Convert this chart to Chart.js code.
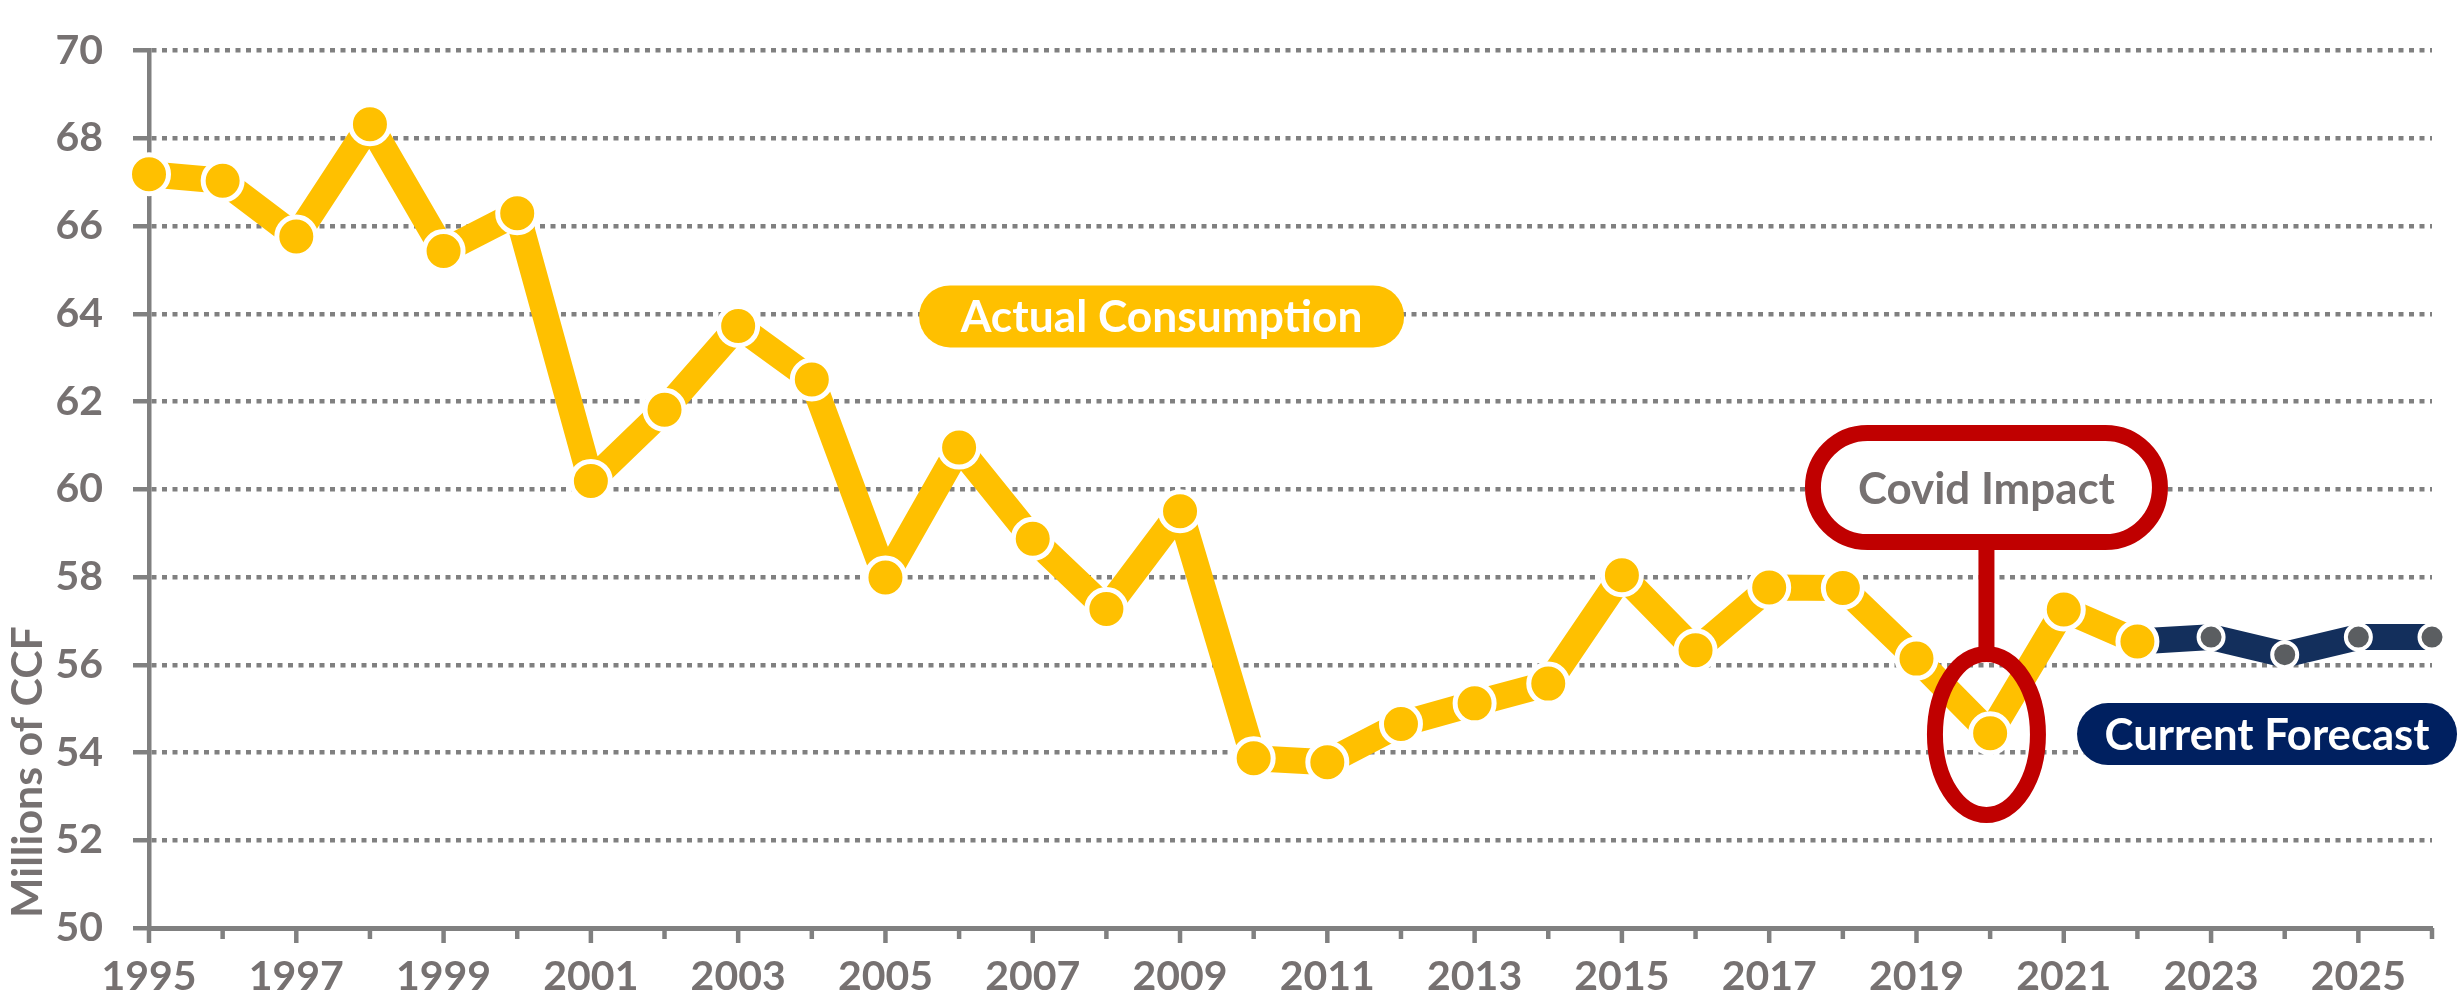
<!DOCTYPE html>
<html>
<head>
<meta charset="utf-8">
<script src="https://cdn.jsdelivr.net/npm/chart.js@4.4.1/dist/chart.umd.min.js"></script>
<style>
  html, body { margin: 0; padding: 0; background: #ffffff; }
  #wrap { width: 2458px; height: 1003px; position: relative; }
  canvas { display: block; }
</style>
</head>
<body>
<div id="wrap"><canvas id="c" width="2458" height="1003"></canvas></div>
<script>
// ---------------- DATA ----------------
const years = [1995, 1996, 1997, 1998, 1999, 2000, 2001, 2002, 2003, 2004,
               2005, 2006, 2007, 2008, 2009, 2010, 2011, 2012, 2013, 2014,
               2015, 2016, 2017, 2018, 2019, 2020, 2021, 2022, 2023, 2024,
               2025, 2026];

const actualConsumption = [67.18, 67.03, 65.76, 68.32, 65.43, 66.29, 60.19, 61.81, 63.72, 62.50,
                           57.99, 60.95, 58.87, 57.27, 59.50, 53.87, 53.78, 54.65, 55.12, 55.57,
                           58.04, 56.33, 57.76, 57.75, 56.14, 54.44, 57.26, 56.53, null, null,
                           null, null];

const currentForecast = [null, null, null, null, null, null, null, null, null, null,
                         null, null, null, null, null, null, null, null, null, null,
                         null, null, null, null, null, null, null, 56.53, 56.63, 56.23,
                         56.63, 56.63];

const xTickLabels = ['1995', '1997', '1999', '2001', '2003', '2005', '2007', '2009',
                     '2011', '2013', '2015', '2017', '2019', '2021', '2023', '2025'];
const yTickValues = [50, 52, 54, 56, 58, 60, 62, 64, 66, 68, 70];

const yAxisTitle = 'Millions of CCF';
const labelActual = 'Actual Consumption';
const labelForecast = 'Current Forecast';
const labelCovid = 'Covid Impact';
// annotation anchors in data coordinates
const actualLabelAt = [2008.75, 63.94];
const forecastLabelAt = [2023.76, 54.42];
const covidBoxAt = [2019.95, 60.04];
const covidRingAt = [2019.95, 54.41];

// ---------------- STYLE ----------------
const FONT = 'Lato, "Open Sans", sans-serif';
const GREY_TEXT = '#767171';
const AXIS_GREY = '#808080';
const YELLOW = '#FFC000';
const NAVY_LINE = '#132F5C';
const NAVY = '#002060';
const RED = '#C00000';

const toXY = (vals) => years.map((yr, i) => ({ x: yr, y: vals[i] }));

function stadium(ctx, cx, cy, w, h) {
  const r = h / 2;
  const x0 = cx - w / 2, x1 = cx + w / 2, y0 = cy - h / 2, y1 = cy + h / 2;
  ctx.beginPath();
  ctx.moveTo(x0 + r, y0);
  ctx.lineTo(x1 - r, y0);
  ctx.arc(x1 - r, cy, r, -Math.PI / 2, Math.PI / 2);
  ctx.lineTo(x0 + r, y1);
  ctx.arc(x0 + r, cy, r, Math.PI / 2, Math.PI * 1.5);
  ctx.closePath();
}

function fitText(ctx, text, targetWidth) {
  ctx.font = 'bold 40px ' + FONT;
  const w = ctx.measureText(text).width;
  const size = 40 * targetWidth / w;
  ctx.font = 'bold ' + size.toFixed(2) + 'px ' + FONT;
  return ctx.measureText('H').actualBoundingBoxAscent;
}

function drawCenteredText(ctx, text, cx, cy, targetWidth, color) {
  const cap = fitText(ctx, text, targetWidth);
  ctx.fillStyle = color;
  ctx.textAlign = 'center';
  ctx.textBaseline = 'alphabetic';
  ctx.fillText(text, cx, cy + cap / 2);
}

const xTicksPlugin = {
  id: 'xTicks',
  afterDraw(chart) {
    const { ctx, scales: { x, y } } = chart;
    ctx.save();
    ctx.strokeStyle = AXIS_GREY;
    ctx.lineWidth = 4.5;
    years.forEach((yr) => {
      const px = x.getPixelForValue(yr);
      const len = xTickLabels.includes(String(yr)) ? 15 : 11;
      ctx.beginPath();
      ctx.moveTo(px, x.top);
      ctx.lineTo(px, x.top + len);
      ctx.stroke();
    });
    // y axis title, rotated, anchored to the bottom of the value axis
    const cap = fitText(ctx, yAxisTitle, 292);
    ctx.translate(26, y.bottom - 10);
    ctx.rotate(-Math.PI / 2);
    ctx.fillStyle = GREY_TEXT;
    ctx.textAlign = 'left';
    ctx.textBaseline = 'alphabetic';
    ctx.fillText(yAxisTitle, 0, cap / 2);
    ctx.restore();
  }
};

const annotationPlugin = {
  id: 'annotations',
  afterDatasetsDraw(chart) {
    const { ctx, scales: { x, y } } = chart;
    ctx.save();

    // Actual Consumption pill
    let cx = x.getPixelForValue(actualLabelAt[0]);
    let cy = y.getPixelForValue(actualLabelAt[1]);
    stadium(ctx, cx, cy, 485, 62);
    ctx.fillStyle = YELLOW;
    ctx.fill();
    drawCenteredText(ctx, labelActual, cx, cy, 402, '#FFFFFF');

    // Current Forecast pill
    cx = x.getPixelForValue(forecastLabelAt[0]);
    cy = y.getPixelForValue(forecastLabelAt[1]);
    stadium(ctx, cx, cy, 380, 62);
    ctx.fillStyle = NAVY;
    ctx.fill();
    drawCenteredText(ctx, labelForecast, cx, cy, 325, '#FFFFFF');

    // Covid callout
    const bx = x.getPixelForValue(covidBoxAt[0]);
    const by = y.getPixelForValue(covidBoxAt[1]);
    const ex = x.getPixelForValue(covidRingAt[0]);
    const ey = y.getPixelForValue(covidRingAt[1]);
    const ringRx = 51.5, ringRy = 80.5, boxW = 347, boxH = 109;

    ctx.strokeStyle = RED;
    ctx.lineWidth = 16;
    ctx.beginPath();
    ctx.moveTo(bx, by + boxH / 2);
    ctx.lineTo(bx, ey - ringRy);
    ctx.stroke();
    ctx.beginPath();
    ctx.ellipse(ex, ey, ringRx, ringRy, 0, 0, Math.PI * 2);
    ctx.stroke();
    stadium(ctx, bx, by, boxW, boxH);
    ctx.fillStyle = '#FFFFFF';
    ctx.fill();
    ctx.stroke();
    drawCenteredText(ctx, labelCovid, bx, by + 1, 257, GREY_TEXT);

    ctx.restore();
  }
};

const tickFont = { family: FONT, size: 41, weight: 'bold', lineHeight: 1.2 };

new Chart(document.getElementById('c'), {
  type: 'line',
  data: {
    datasets: [
      {
        label: labelActual,
        data: toXY(actualConsumption),
        borderColor: YELLOW,
        backgroundColor: YELLOW,
        borderWidth: 26,
        borderJoinStyle: 'round',
        pointRadius: 19.5,
        pointBorderWidth: 5,
        pointBorderColor: '#FFFFFF',
        pointBackgroundColor: YELLOW,
        pointHoverRadius: 19.5,
        clip: false,
        tension: 0
      },
      {
        label: labelForecast,
        data: toXY(currentForecast),
        borderColor: NAVY_LINE,
        backgroundColor: NAVY_LINE,
        borderWidth: 26,
        borderJoinStyle: 'round',
        pointRadius: 12.5,
        pointBorderWidth: 4,
        pointBorderColor: '#FFFFFF',
        pointBackgroundColor: '#5B5E61',
        pointHoverRadius: 12.5,
        clip: false,
        tension: 0
      }
    ]
  },
  options: {
    responsive: false,
    devicePixelRatio: 1,
    animation: false,
    events: [],
    layout: { padding: { top: 23, right: 26, bottom: 0, left: 0 } },
    plugins: {
      legend: { display: false },
      tooltip: { enabled: false },
      title: { display: false }
    },
    scales: {
      x: {
        type: 'linear',
        min: years[0],
        max: years[years.length - 1],
        afterFit(scale) { scale.height = 75; },
        afterBuildTicks(scale) { scale.ticks = years.map(v => ({ value: v })); },
        ticks: {
          stepSize: 1,
          autoSkip: false,
          maxRotation: 0,
          minRotation: 0,
          maxTicksLimit: 100,
          padding: 9,
          color: GREY_TEXT,
          font: tickFont,
          callback: (v) => xTickLabels.includes(String(v)) ? String(v) : ''
        },
        grid: {
          display: true,
          drawOnChartArea: false,
          drawTicks: true,
          tickLength: 15,
          tickColor: 'rgba(0,0,0,0)'
        },
        border: { display: true, color: AXIS_GREY, width: 5 }
      },
      y: {
        type: 'linear',
        min: yTickValues[0],
        max: yTickValues[yTickValues.length - 1],
        afterFit(scale) { scale.width = 149; },
        afterBuildTicks(scale) { scale.ticks = yTickValues.map(v => ({ value: v })); },
        ticks: {
          stepSize: 2,
          padding: 30,
          color: GREY_TEXT,
          font: { family: FONT, size: 41, weight: 'bold', lineHeight: 1.0 },
          callback: (v) => String(v)
        },
        grid: {
          color: (c) => (c.tick && c.tick.value === yTickValues[0]) ? 'rgba(0,0,0,0)' : AXIS_GREY,
          lineWidth: 4.5,
          tickBorderDash: [],
          tickColor: AXIS_GREY,
          tickWidth: 4.5,
          tickLength: 16
        },
        border: { display: true, color: AXIS_GREY, width: 4.5, dash: [5, 5.5] },
        title: { display: false }
      }
    }
  },
  plugins: [xTicksPlugin, annotationPlugin]
});
</script>
</body>
</html>
